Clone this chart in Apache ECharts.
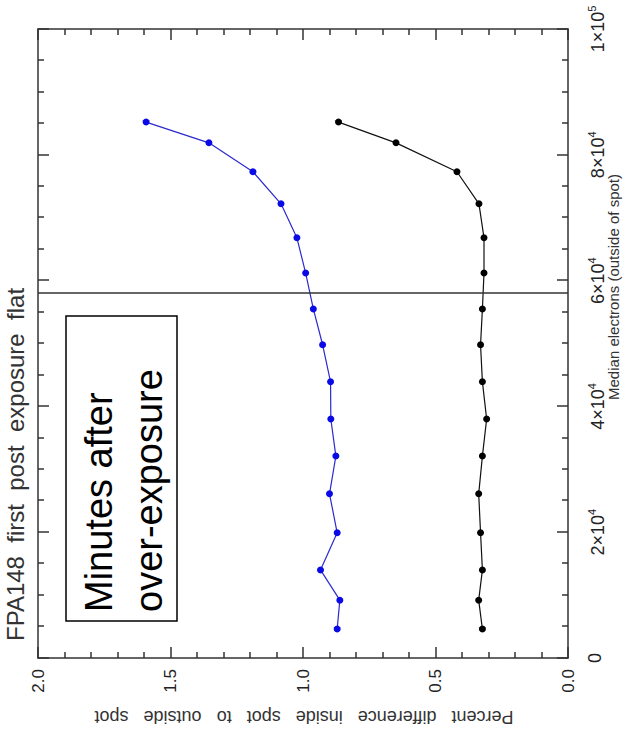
<!DOCTYPE html>
<html>
<head>
<meta charset="utf-8">
<script src="https://cdn.jsdelivr.net/npm/echarts@6/dist/echarts.min.js"></script>
<style>
html,body{margin:0;padding:0;background:#fff;overflow:hidden;width:626px;height:738px;}
#wrap{position:absolute;left:0;top:0;width:738px;height:626px;transform-origin:0 0;transform:translate(0px,738px) rotate(-90deg);}
</style>
</head>
<body>
<div id="wrap"></div>
<script>
// Median electrons (outside of spot)
const electrons = [4600, 9200, 14000, 19900, 26100, 32100, 38000, 43900, 49800, 55500, 61200, 66800, 72200, 77300, 81900, 85200];
// Percent difference inside spot to outside spot
const blueSeries = [0.871, 0.861, 0.934, 0.871, 0.900, 0.876, 0.895, 0.896, 0.926, 0.961, 0.990, 1.023, 1.083, 1.189, 1.355, 1.592];
const blackSeries = [0.323, 0.337, 0.323, 0.330, 0.337, 0.323, 0.307, 0.323, 0.330, 0.323, 0.317, 0.317, 0.336, 0.419, 0.649, 0.866];
const refLineX = 58000;
const xTickLabels = ['0', '2×10|4', '4×10|4', '6×10|4', '8×10|4', '1×10|5'];
const yTickLabels = ['0.0', '0.5', '1.0', '1.5', '2.0'];
const titleText = 'FPA148  first  post  exposure  flat';
const xName = 'Median electrons (outside of spot)';
const yName = 'Percent   difference   inside   spot   to   outside   spot';
const boxLines = ['Minutes after', 'over-exposure'];

const chart = echarts.init(document.getElementById('wrap'), null, {renderer: 'svg', width: 738, height: 626});
const FONT = 'Liberation Sans';
const axisCol = '#333';

function xFmt(v) {
  const i = Math.round(v / 20000);
  const s = xTickLabels[i];
  if (s === undefined) return '';
  const p = s.split('|');
  return p.length === 1 ? '{b|' + p[0] + '}' : '{b|' + p[0] + '}{s|' + p[1] + '}';
}
function yFmt(v) {
  const i = Math.round(v / 0.5);
  return yTickLabels[i] !== undefined ? yTickLabels[i] : '';
}
const commonX = {
  type: 'value', min: 0, max: 100000, interval: 20000,
  axisLine: {show: true, onZero: false, lineStyle: {color: axisCol, width: 1.5}},
  axisTick: {show: true, inside: true, length: 11, lineStyle: {color: axisCol, width: 1.5}},
  minorTick: {show: true, splitNumber: 4, length: 6, lineStyle: {color: axisCol, width: 1.5}},
  splitLine: {show: false}, minorSplitLine: {show: false}
};
const commonY = {
  type: 'value', min: 0, max: 2, interval: 0.5,
  axisLine: {show: true, onZero: false, lineStyle: {color: axisCol, width: 1.5}},
  axisTick: {show: true, inside: true, length: 11, lineStyle: {color: axisCol, width: 1.5}},
  minorTick: {show: true, splitNumber: 5, length: 6, lineStyle: {color: axisCol, width: 1.5}},
  splitLine: {show: false}, minorSplitLine: {show: false}
};

chart.setOption({
  animation: false,
  backgroundColor: '#fff',
  grid: {left: 80, right: 29, top: 38, bottom: 58, containLabel: false},
  xAxis: [
    Object.assign({}, commonX, {
      position: 'bottom',
      axisLabel: {
        show: true, margin: 18, showMaxLabel: true, showMinLabel: true,
        formatter: xFmt,
        rich: {
          b: {fontFamily: FONT, fontSize: 18, color: '#222'},
          s: {fontFamily: FONT, fontSize: 11, color: '#222', padding: [0, 0, 13, 0]}
        }
      }
    }),
    Object.assign({}, commonX, {position: 'top', axisLabel: {show: false}})
  ],
  yAxis: [
    Object.assign({}, commonY, {
      position: 'left',
      axisLabel: {show: true, margin: 11, formatter: yFmt, fontFamily: FONT, fontSize: 17, color: '#222'}
    }),
    Object.assign({}, commonY, {position: 'right', axisLabel: {show: false}})
  ],
  series: [
    {
      type: 'line', xAxisIndex: 0, yAxisIndex: 0,
      data: electrons.map((x, i) => [x, blueSeries[i]]),
      symbol: 'circle', symbolSize: 7,
      itemStyle: {color: '#0a0ae6'},
      lineStyle: {color: '#2a2ad0', width: 1.2}
    },
    {
      type: 'line', xAxisIndex: 0, yAxisIndex: 0,
      data: electrons.map((x, i) => [x, blackSeries[i]]),
      symbol: 'circle', symbolSize: 7,
      itemStyle: {color: '#000'},
      lineStyle: {color: '#111', width: 1.2},
      markLine: {
        silent: true, symbol: ['none', 'none'], label: {show: false},
        lineStyle: {color: '#333', type: 'solid', width: 1.5},
        data: [{xAxis: refLineX}]
      }
    }
  ],
  graphic: [
    {type: 'text', left: 97, top: 3, style: {text: titleText, font: '24px ' + FONT, fill: '#333'}},
    {type: 'text', x: 451, y: 613, style: {text: xName, font: '15px ' + FONT, fill: '#333', align: 'center', verticalAlign: 'middle'}},
    {type: 'text', x: 21, y: 304, rotation: Math.PI / 2, style: {text: yName, font: '18px ' + FONT, fill: '#333', align: 'center', verticalAlign: 'middle'}},
    {type: 'rect', shape: {x: 117, y: 66, width: 305, height: 111}, style: {fill: '#fff', stroke: '#000', lineWidth: 1.5}},
    {type: 'text', x: 126, y: 99, style: {text: boxLines[0], font: '38px ' + FONT, fill: '#000', align: 'left', verticalAlign: 'middle'}},
    {type: 'text', x: 126, y: 149, style: {text: boxLines[1], font: '38px ' + FONT, fill: '#000', align: 'left', verticalAlign: 'middle'}}
  ]
});
</script>
</body>
</html>
